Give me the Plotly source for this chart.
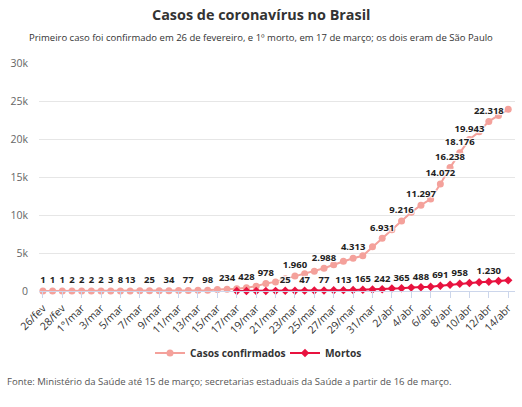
import plotly.graph_objects as go

dates = ["26/fev", "27/fev", "28/fev", "29/fev",
         "1°/mar", "2/mar", "3/mar", "4/mar", "5/mar", "6/mar", "7/mar", "8/mar", "9/mar", "10/mar",
         "11/mar", "12/mar", "13/mar", "14/mar", "15/mar", "16/mar", "17/mar", "18/mar", "19/mar",
         "20/mar", "21/mar", "22/mar", "23/mar", "24/mar", "25/mar", "26/mar", "27/mar", "28/mar",
         "29/mar", "30/mar", "31/mar",
         "1/abr", "2/abr", "3/abr", "4/abr", "5/abr", "6/abr", "7/abr", "8/abr", "9/abr", "10/abr",
         "11/abr", "12/abr", "13/abr", "14/abr"]

casos = [1, 1, 1, 2, 2, 2, 2, 3, 8, 13, 19, 25, 25, 34, 52, 77, 90, 98, 200, 234, 301, 428, 640,
         978, 1200, 1600, 1960, 2280, 2600, 2988, 3450, 3910, 4313, 4630, 5810, 6931, 8060, 9216,
         10360, 11297, 12100, 14072, 16238, 18176, 19943, 20960, 22318, 23100, 23900]

mortos = [None] * 20 + [1, 4, 7, 11, 18, 25, 34, 47, 59, 77, 93, 113, 136, 165, 201, 242, 324, 365,
                        445, 488, 566, 691, 820, 958, 1057, 1141, 1230, 1328, 1400]

casos_rotulos = ["26/fev", "27/fev", "28/fev", "29/fev", "1°/mar", "2/mar", "3/mar", "4/mar", "5/mar",
                 "6/mar", "8/mar", "10/mar", "12/mar", "14/mar", "16/mar", "18/mar", "20/mar", "23/mar",
                 "26/mar", "29/mar", "1/abr", "3/abr", "5/abr", "7/abr", "8/abr", "9/abr", "10/abr", "12/abr"]
mortos_rotulos = ["22/mar", "24/mar", "26/mar", "28/mar", "30/mar", "1/abr", "3/abr", "5/abr",
                  "7/abr", "9/abr", "12/abr"]

tick_labels = dates[::2]
y_ticks = [0, 5000, 10000, 15000, 20000, 25000, 30000]
y_ticktext = ["0", "5k", "10k", "15k", "20k", "25k", "30k"]


def fmt(v):
    return f"{v:,}".replace(",", ".")


casos_text = [fmt(v) if d in casos_rotulos else "" for d, v in zip(dates, casos)]
mortos_text = [fmt(v) if (d in mortos_rotulos and v is not None) else "" for d, v in zip(dates, mortos)]

FONT = "Open Sans, Arial, sans-serif"
C_CASOS = "#f4a19b"
C_MORTOS = "#e8123f"
OUTLINE = "1px 1px 1px #fff, -1px -1px 1px #fff, 1px -1px 1px #fff, -1px 1px 1px #fff"
LABEL_FONT = dict(family=FONT, size=9.5, color="#222", weight="bold", shadow=OUTLINE)

fig = go.Figure()
fig.add_trace(go.Scatter(
    x=dates, y=casos, name="Casos confirmados", mode="lines+markers+text",
    line=dict(color=C_CASOS, width=2), marker=dict(color=C_CASOS, size=7, symbol="circle"),
    text=casos_text, textposition="top center", textfont=LABEL_FONT,
    cliponaxis=False,
))
fig.add_trace(go.Scatter(
    x=dates, y=mortos, name="Mortos", mode="lines+markers+text",
    line=dict(color=C_MORTOS, width=2), marker=dict(color=C_MORTOS, size=6.5, symbol="diamond"),
    text=mortos_text, textposition="top center", textfont=LABEL_FONT,
    cliponaxis=False,
))

W, H = 522, 407
L, R, T, B = 39, 7, 63, 116
ph = H - T - B
pw = W - L - R


def py(p):
    return (H - B - p) / ph


def px(p):
    return (p - L) / pw


fig.update_layout(
    width=W, height=H, margin=dict(l=L, r=R, t=T, b=B),
    paper_bgcolor="white", plot_bgcolor="white",
    font=dict(family=FONT, color="#333"),
    showlegend=True,
    legend=dict(orientation="h", x=px(150), xanchor="left", y=py(353), yanchor="middle",
                font=dict(size=10.2, color="#333", weight="bold"),
                entrywidth=90, entrywidthmode="pixels",
                bgcolor="rgba(0,0,0,0)"),
    xaxis=dict(type="category", categoryorder="array", categoryarray=dates,
               range=[-0.4, 48.7], tickvals=tick_labels, ticktext=tick_labels,
               tickangle=-45, tickfont=dict(size=10.5, color="#333"),
               showgrid=False, showline=True, linecolor="#ccd6eb", linewidth=1,
               ticks="outside", ticklen=6, tickcolor="#ccd6eb", zeroline=False),
    yaxis=dict(range=[0, 30000], tickvals=y_ticks, ticktext=y_ticktext,
               tickfont=dict(size=10.5, color="#666"), showgrid=True, gridcolor="#e6e6e6",
               gridwidth=1, zeroline=False, showline=False, ticklabelstandoff=10),
    annotations=[
        dict(text="<b>Casos de coronavírus no Brasil</b>", x=px(W / 2), y=py(14), xref="paper", yref="paper",
             showarrow=False, xanchor="center", yanchor="middle", font=dict(size=14.4, color="#333")),
        dict(text="Primeiro caso foi confirmado em 26 de fevereiro, e 1º morto, em 17 de março; os dois eram de São Paulo",
             x=px(W / 2), y=py(37), xref="paper", yref="paper", showarrow=False,
             xanchor="center", yanchor="middle", font=dict(size=9.5, color="#333")),
        dict(text="Fonte: Ministério da Saúde até 15 de março; secretarias estaduais da Saúde a partir de 16 de março.",
             x=px(5), y=py(381), xref="paper", yref="paper", showarrow=False,
             xanchor="left", yanchor="middle", font=dict(size=9.55, color="#555")),
    ],
)

fig.write_html("out.html")
